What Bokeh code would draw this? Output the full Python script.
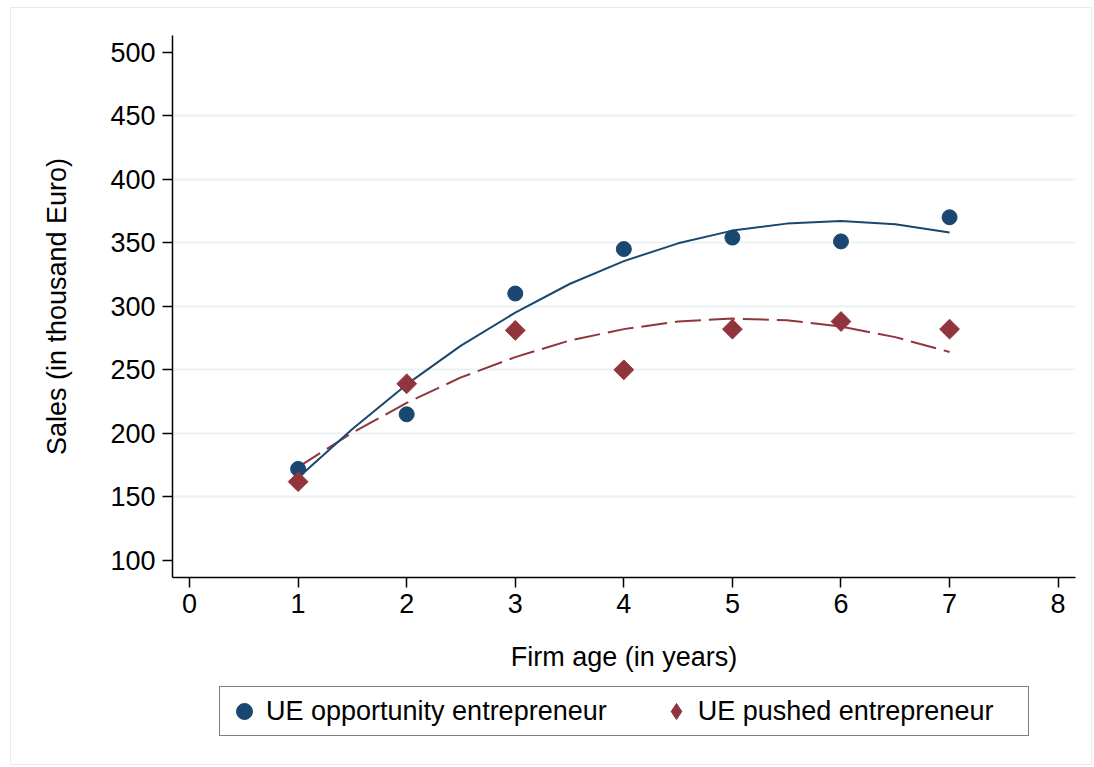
import numpy as np
from bokeh.plotting import figure
from bokeh.layouts import column
from bokeh.models import FixedTicker, Legend, LegendItem, Range1d, ColumnDataSource
from bokeh.embed import file_html
from bokeh.resources import INLINE

# ---- data ----
firm_age = [1, 2, 3, 4, 5, 6, 7]
opportunity_sales = [172, 215, 310, 345, 354, 351, 370]
pushed_sales = [162, 239, 281, 250, 282, 288, 282]

# fitted (quadratic) curves
fit_age = [1, 1.5, 2, 2.5, 3, 3.5, 4, 4.5, 5, 5.5, 6, 6.5, 7]
fit_opportunity = [165, 203.5, 238.5, 269, 295, 317.5, 335.5, 349.5, 359.5, 365, 367, 364.5, 358]
fit_pushed = [173.5, 200.5, 224, 244, 260, 273, 282, 288, 290.3, 289, 284, 275.7, 264]

x_ticks = [0, 1, 2, 3, 4, 5, 6, 7, 8]
y_ticks = [100, 150, 200, 250, 300, 350, 400, 450, 500]
grid_ticks = [150, 200, 250, 300, 350, 400, 450]
labels = ["UE opportunity entrepreneur", "UE pushed entrepreneur"]

NAVY = "#1a476f"
MAROON = "#90353b"
FONT = "Liberation Sans"
FS = "27px"

p = figure(
    frame_width=903, frame_height=542,
    min_border_left=161, min_border_right=16, min_border_top=27, min_border_bottom=109,
    x_range=Range1d(-0.157, 8.16), y_range=Range1d(86.6, 513),
    output_backend="svg", toolbar_location=None,
)
p.outline_line_color = None
p.background_fill_color = "white"
p.border_fill_color = "white"

s_opp = ColumnDataSource(dict(x=firm_age, y=opportunity_sales))
s_push = ColumnDataSource(dict(x=firm_age, y=pushed_sales))

p.line(fit_age, fit_pushed, line_color=MAROON, line_width=2, line_dash="26 8",
       line_join="round")
p.line(fit_age, fit_opportunity, line_color=NAVY, line_width=2, line_join="round")
p.scatter("x", "y", source=s_opp, marker="circle", size=15,
          fill_color=NAVY, line_color=NAVY)
p.scatter("x", "y", source=s_push, marker="square", size=14, angle=np.pi / 4,
          fill_color=MAROON, line_color=MAROON)

# grid
p.xgrid.visible = False
p.ygrid.ticker = FixedTicker(ticks=grid_ticks)
p.ygrid.grid_line_color = "#eaf2f3"
p.ygrid.grid_line_width = 2

for ax in (p.xaxis[0], p.yaxis[0]):
    ax.axis_line_color = "black"
    ax.axis_line_width = 1.5
    ax.major_tick_line_color = "black"
    ax.major_tick_line_width = 1.5
    ax.major_tick_out = 10
    ax.major_tick_in = 0
    ax.minor_tick_line_color = None
    ax.major_label_text_font = FONT
    ax.major_label_text_font_size = FS
    ax.major_label_text_color = "black"
    ax.axis_label_text_font = FONT
    ax.axis_label_text_font_size = FS
    ax.axis_label_text_font_style = "normal"
    ax.axis_label_text_color = "black"

p.xaxis.ticker = FixedTicker(ticks=x_ticks)
p.yaxis.ticker = FixedTicker(ticks=y_ticks)
p.xaxis.axis_label = "Firm age (in years)"
p.yaxis.axis_label = "Sales (in thousand Euro)"
p.xaxis.major_label_standoff = 6
p.yaxis.major_label_standoff = 7
p.xaxis.axis_label_standoff = 26
p.yaxis.axis_label_standoff = 35

# ---- legend strip (separate figure below the plot) ----
# the data points lie outside this strip's ranges; only the legend is seen
lg = figure(
    frame_width=1080, frame_height=78,
    min_border_left=0, min_border_right=0, min_border_top=0, min_border_bottom=0,
    x_range=Range1d(-2, -1), y_range=Range1d(-2, -1),
    x_axis_type=None, y_axis_type=None,
    output_backend="svg", toolbar_location=None,
)
lg.grid.visible = False
lg.outline_line_color = None
lg.background_fill_color = "white"
lg.border_fill_color = "white"
lr_opp = lg.scatter("x", "y", source=s_opp, marker="circle", size=15,
                    fill_color=NAVY, line_color=NAVY)
lr_push = lg.scatter("x", "y", source=s_push, marker="diamond", size=20,
                     fill_color=MAROON, line_color=MAROON)

legend = Legend(
    items=[LegendItem(label=labels[0], renderers=[lr_opp], index=0),
           LegendItem(label=labels[1], renderers=[lr_push], index=0)],
    orientation="horizontal", location=(208, 28),
    label_text_font=FONT, label_text_font_size=FS, label_text_color="black",
    border_line_color="black", border_line_width=1.5,
    padding=4, spacing=49, label_standoff=2, glyph_width=40, glyph_height=40,
    label_width=326, margin=0, background_fill_color="white",
)
lg.add_layout(legend, "center")

layout = column(p, lg, spacing=0,
                styles={"border": "1px solid #e4ecee", "margin-left": "10px", "margin-top": "7px"})

open("out.html", "w").write(file_html(layout, INLINE))
